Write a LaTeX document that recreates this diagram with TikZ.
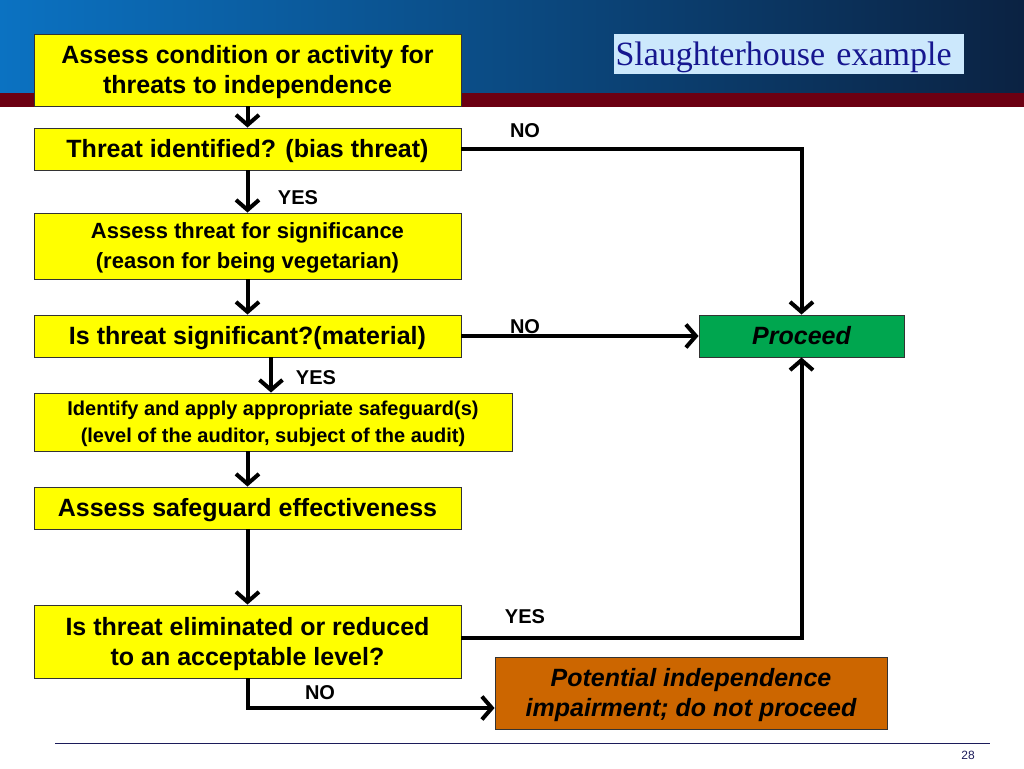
\documentclass[tikz,border=0pt]{standalone}
\usepackage{fontspec}
\setmainfont{Liberation Sans}
\newfontfamily\ttlfont{Liberation Serif}
\usetikzlibrary{arrows.meta}
\definecolor{hdrL}{HTML}{0B72C2}
\definecolor{hdrR}{HTML}{0B2242}
\definecolor{hdrRed}{HTML}{6C0012}
\definecolor{ttlbg}{HTML}{CCE8FC}
\definecolor{ttlfg}{HTML}{16168F}
\definecolor{boxY}{HTML}{FFFF00}
\definecolor{boxG}{HTML}{00A64F}
\definecolor{boxO}{HTML}{CC6600}
\definecolor{navy}{HTML}{1C1C5A}
% a line whose box is exactly cap-high, so that caps are centred like in the slide
\newcommand\capln[1]{\raisebox{0pt}[0.716em][0pt]{#1}}
\newcommand\capser[1]{\raisebox{0pt}[0.662em][0pt]{#1}}
\tikzset{
  flowbox/.style={draw=black!80, line width=0.9pt, fill=boxY, inner sep=0pt, align=center,
    font=\bfseries\fontsize{25}{30}\selectfont},
  arr/.style={line width=4pt, -{Straight Barb[length=10pt,width=23pt]}},
  lbl/.style={font=\bfseries\fontsize{20}{24}\selectfont, inner sep=0pt},
}
\begin{document}
\begin{tikzpicture}[x=1pt,y=-1pt]
\useasboundingbox (0,0) rectangle (1024,768);
% header
\shade[left color=hdrL, right color=hdrR] (0,0) rectangle (1024,93);
\fill[hdrRed] (0,93) rectangle (1024,107);
\node[fill=ttlbg, minimum width=350pt, minimum height=40pt, inner sep=0pt,
  text width=347pt, align=left,
  font=\ttlfont\fontsize{34}{40}\selectfont, text=ttlfg] (ttl) at (789,54) {\capser{Slaughterhouse example}};
% boxes
\node[flowbox, minimum width=427pt, minimum height=72pt] (b1) at (247.5,70) {\capln{Assess condition or activity for}\\\capln{threats to independence}};
\node[flowbox, minimum width=427pt, minimum height=42pt] (b2) at (247.5,149) {\capln{Threat identified? (bias threat)}};
\node[flowbox, minimum width=427pt, minimum height=66pt, font=\bfseries\fontsize{22}{30}\selectfont] (b3) at (247.5,246) {\capln{Assess threat for significance}\\\capln{(reason for being vegetarian)}};
\node[flowbox, minimum width=427pt, minimum height=42pt] (b4) at (247.5,336) {\capln{Is threat significant?(material)}};
\node[flowbox, minimum width=478pt, minimum height=58pt, font=\bfseries\fontsize{20}{27}\selectfont] (b5) at (273,422) {\capln{Identify and apply appropriate safeguard(s)}\\\capln{(level of the auditor, subject of the audit)}};
\node[flowbox, minimum width=427pt, minimum height=42pt] (b6) at (247.5,508) {\capln{Assess safeguard effectiveness}};
\node[flowbox, minimum width=427pt, minimum height=73pt] (b7) at (247.5,641.5) {\capln{Is threat eliminated or reduced}\\\capln{to an acceptable level?}};
\node[flowbox, fill=boxG, minimum width=205pt, minimum height=42pt, font=\bfseries\itshape\fontsize{25}{30}\selectfont] (pr) at (801.5,336) {\capln{Proceed}};
\node[flowbox, fill=boxO, minimum width=392pt, minimum height=72pt, font=\bfseries\itshape\fontsize{25}{30}\selectfont] (imp) at (691,693) {\capln{Potential independence}\\\capln{impairment; do not proceed}};
% connectors
\draw[arr] (b1.south) -- (b2.north);
\draw[arr] (b2.south) -- (b3.north);
\draw[arr] (b3.south) -- (b4.north);
\draw[arr] ([xshift=23.5pt]b4.south) -- ([xshift=23.5pt]b4.south |- b5.north);
\draw[arr] ([xshift=-25.5pt]b5.south) -- ([xshift=-25.5pt]b5.south |- b6.north);
\draw[arr] (b6.south) -- (b7.north);
\draw[arr] (b2.east) -| (pr.north);
\draw[arr] (b4.east) -- (pr.west);
\draw[arr] ([yshift=3.5pt]b7.east) -| (pr.south);
\draw[arr] (b7.south) |- ([yshift=-15pt]imp.west);
% labels
\node[lbl] (l1) at (525,131) {NO};
\node[lbl] (l2) at (298,198) {YES};
\node[lbl] (l3) at (525,327) {NO};
\node[lbl] (l4) at (316,378) {YES};
\node[lbl] (l5) at (525,617) {YES};
\node[lbl] (l6) at (320,693) {NO};
% footer
\draw[navy, line width=1pt] (55,743) -- (990,743);
\node[font=\fontsize{12}{14}\selectfont, text=navy, inner sep=0pt] (pg) at (968,755) {28};
\end{tikzpicture}
\end{document}
